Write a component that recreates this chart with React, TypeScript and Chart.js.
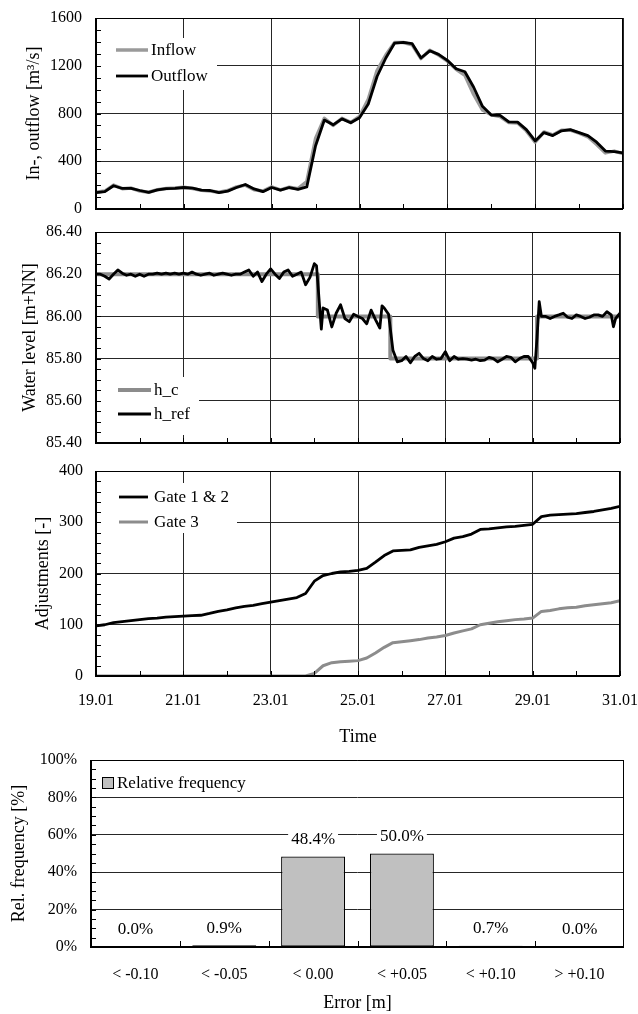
import React, { useEffect, useRef } from 'react';
import { Chart, registerables } from 'chart.js';

Chart.register(...registerables);

const SERIF = "'Liberation Serif', 'Times New Roman', Times, serif";
const GRID = '#262626';

// ---------- shared time axis (days after 19.01) ----------
const timeTickLabels = ['19.01', '21.01', '23.01', '25.01', '27.01', '29.01', '31.01'];

const gridDays = [
  0, 0.2, 0.4, 0.6, 0.8, 1.0, 1.2, 1.4, 1.6, 1.8,
  2.0, 2.2, 2.4, 2.6, 2.8, 3.0, 3.2, 3.4, 3.6, 3.8,
  4.0, 4.2, 4.4, 4.6, 4.8, 5.0, 5.2, 5.4, 5.6, 5.8,
  6.0, 6.2, 6.4, 6.6, 6.8, 7.0, 7.2, 7.4, 7.6, 7.8,
  8.0, 8.2, 8.4, 8.6, 8.8, 9.0, 9.2, 9.4, 9.6, 9.8,
  10.0, 10.2, 10.4, 10.6, 10.8, 11.0, 11.2, 11.4, 11.6, 11.8,
  12.0,
];

// ---------- panel 1: in-/outflow [m3/s] ----------
const inflow = [
  140, 150, 200, 170, 175, 150, 140, 162, 172, 175,
  182, 172, 156, 150, 140, 155, 185, 200, 162, 150,
  185, 160, 182, 170, 230, 590, 760, 700, 760, 725,
  775, 920, 1160, 1290, 1395, 1395, 1375, 1260, 1330, 1290,
  1240, 1170, 1120, 960, 830, 790, 775, 725, 720, 655,
  560, 645, 620, 660, 660, 635, 605, 540, 470, 485,
  465,
];
const outflow = [
  137, 145, 195, 172, 172, 155, 140, 160, 170, 172,
  180, 175, 158, 155, 138, 150, 180, 205, 168, 145,
  180, 158, 180, 165, 185, 530, 745, 705, 755, 722,
  765, 880, 1110, 1265, 1390, 1395, 1385, 1265, 1325, 1295,
  1245, 1175, 1150, 1020, 860, 787, 785, 730, 728, 665,
  570, 640, 615, 655, 665, 640, 615, 560, 485, 480,
  470,
];
const flowTickLabels = ['0', '400', '800', '1200', '1600'];

// ---------- panel 2: water level [m+NN] ----------
const levelDays = [
  0, 0.1, 0.2, 0.3, 0.4, 0.5, 0.6, 0.7, 0.8, 0.9,
  1.0, 1.1, 1.2, 1.3, 1.4, 1.5, 1.6, 1.7, 1.8, 1.9,
  2.0, 2.1, 2.2, 2.3, 2.4, 2.5, 2.6, 2.7, 2.8, 2.9,
  3.0, 3.1, 3.2, 3.3, 3.4, 3.5, 3.6, 3.7, 3.8, 3.9,
  4.0, 4.1, 4.2, 4.3, 4.4, 4.5, 4.6, 4.7, 4.8, 4.9,
  5.0, 5.05, 5.16, 5.2, 5.3, 5.4, 5.5, 5.6, 5.7, 5.8,
  5.9, 6.0, 6.1, 6.2, 6.3, 6.4, 6.5, 6.55, 6.6, 6.7,
  6.8, 6.9, 7.0, 7.1, 7.2, 7.3, 7.4, 7.5, 7.6, 7.7,
  7.8, 7.9, 8.0, 8.1, 8.2, 8.3, 8.4, 8.5, 8.6, 8.7,
  8.8, 8.9, 9.0, 9.1, 9.2, 9.3, 9.4, 9.5, 9.6, 9.7,
  9.8, 9.9, 10.0, 10.05, 10.1, 10.15, 10.2, 10.3, 10.4, 10.5,
  10.6, 10.7, 10.8, 10.9, 11.0, 11.1, 11.2, 11.3, 11.4, 11.5,
  11.6, 11.7, 11.8, 11.85, 11.9, 12.0,
];
const hRef = [
  86.2, 86.2, 86.19, 86.177, 86.2, 86.22, 86.205, 86.195, 86.2, 86.19,
  86.2, 86.19, 86.2, 86.2, 86.205, 86.2, 86.205, 86.2, 86.205, 86.2,
  86.205, 86.2, 86.21, 86.2, 86.195, 86.2, 86.205, 86.195, 86.2, 86.205,
  86.2, 86.195, 86.2, 86.2, 86.21, 86.22, 86.19, 86.21, 86.165, 86.2,
  86.225, 86.2, 86.18, 86.21, 86.22, 86.19, 86.2, 86.21, 86.15, 86.185,
  86.25, 86.24, 85.94, 86.04, 86.03, 85.95, 86.015, 86.055, 85.99, 85.975,
  86.01, 86.0, 85.99, 85.965, 86.03, 85.985, 85.945, 86.05, 86.04, 86.01,
  85.84, 85.785, 85.79, 85.81, 85.78, 85.81, 85.825, 85.8, 85.79, 85.81,
  85.797, 85.8, 85.833, 85.79, 85.81, 85.797, 85.8, 85.797, 85.793, 85.797,
  85.79, 85.793, 85.806, 85.8, 85.785, 85.797, 85.81, 85.806, 85.785, 85.8,
  85.81, 85.81, 85.78, 85.754, 85.9, 86.07, 86.0, 86.0, 85.99, 86.0,
  86.007, 86.015, 85.996, 85.99, 86.007, 86.0, 85.99, 85.996, 86.007, 86.007,
  86.0, 86.022, 86.007, 85.951, 85.99, 86.015,
];
const hcDays = [0, 5.08, 5.08, 6.74, 6.74, 10.1, 10.1, 12];
const hc = [86.2, 86.2, 86.0, 86.0, 85.8, 85.8, 86.0, 86.0];
const levelTickLabels = ['85.40', '85.60', '85.80', '86.00', '86.20', '86.40'];

// ---------- panel 3: adjustments [-] ----------
const gate12 = [
  97.6, 100, 104, 106, 108, 110, 112, 113, 115, 116,
  117, 118, 118.5, 122, 126, 129, 133, 136, 138, 141,
  144, 147, 150, 153, 161, 185, 196, 200, 203, 204,
  206, 210, 222, 235, 244, 245, 246, 251, 254, 257,
  262, 269, 272, 277, 286, 287, 289, 291, 292, 294,
  296, 311, 314, 315, 316, 317, 319, 321, 324, 327,
  331,
];
const gate3 = [
  0, 0, 0, 0, 0, 0, 0, 0, 0, 0,
  0, 0, 0, 0, 0, 0, 0, 0, 0, 0,
  0, 0, 0, 0, 0, 5, 20, 26, 28, 29,
  30, 35, 45, 56, 65, 67, 69, 71, 74, 76,
  79, 84, 88, 92, 100, 103, 106, 108, 110, 111,
  113, 126, 128, 131, 133, 134, 137, 139, 141, 143,
  147,
];
const adjTickLabels = ['0', '100', '200', '300', '400'];

// ---------- panel 4: error histogram ----------
const errorClasses = ['< -0.10', '< -0.05', '< 0.00', '< +0.05', '< +0.10', '> +0.10'];
const relFrequency = [0.0, 0.9, 48.4, 50.0, 0.7, 0.0];
const freqTickLabels = ['0%', '20%', '40%', '60%', '80%', '100%'];

// ---------- decoration plugin (frame, minor ticks, legend box, bar labels) ----------
const decorPlugin = {
  id: 'decor',
  beforeDatasetsDraw(chart: any, _args: any, o: any) {
    const lg = o && o.legend;
    if (!lg) return;
    const { ctx, chartArea: a } = chart;
    ctx.save();
    ctx.fillStyle = '#fff';
    ctx.fillRect(a.left + 1, a.top + lg.top, lg.width, lg.height);
    ctx.font = `${lg.fontSize}px ${SERIF}`;
    ctx.textBaseline = 'middle';
    ctx.textAlign = 'left';
    chart.data.datasets.forEach((ds: any, i: number) => {
      const y = a.top + lg.rows[i];
      if (lg.square) {
        ctx.fillStyle = ds.backgroundColor;
        ctx.fillRect(a.left + lg.lineX1, y - 6, 12, 12);
        ctx.strokeStyle = '#000';
        ctx.lineWidth = 1;
        ctx.strokeRect(a.left + lg.lineX1 + 0.5, y - 5.5, 11, 11);
      } else {
        ctx.strokeStyle = ds.borderColor;
        ctx.lineWidth = ds.borderWidth;
        ctx.beginPath();
        ctx.moveTo(a.left + lg.lineX1, y);
        ctx.lineTo(a.left + lg.lineX2, y);
        ctx.stroke();
      }
      ctx.fillStyle = '#000';
      ctx.fillText(ds.label, a.left + lg.textX, y + 1);
    });
    ctx.restore();
  },
  afterDatasetsDraw(chart: any, _args: any, o: any) {
    const { ctx, chartArea: a, scales } = chart;
    ctx.save();
    ctx.strokeStyle = '#000';
    ctx.lineWidth = 1;
    ctx.beginPath();
    if (o.yMinor) {
      const ys = scales.y;
      const n = Math.round((ys.max - ys.min) / o.yMinor);
      for (let i = 0; i <= n; i++) {
        const p = Math.round(ys.getPixelForValue(ys.min + i * o.yMinor)) + 0.5;
        ctx.moveTo(a.left, p);
        ctx.lineTo(a.left + 5, p);
      }
    }
    if (o.xMinor) {
      const xs = scales.x;
      const n = Math.round((xs.max - xs.min) / o.xMinor);
      for (let i = 0; i <= n; i++) {
        const p = Math.round(xs.getPixelForValue(xs.min + i * o.xMinor)) + 0.5;
        ctx.moveTo(p, a.bottom);
        ctx.lineTo(p, a.bottom - 5);
      }
    }
    if (o.catTicks) {
      const xs = scales.x;
      const n = chart.data.labels.length;
      for (let i = 1; i < n; i++) {
        const p = Math.round((xs.getPixelForValue(i - 1) + xs.getPixelForValue(i)) / 2) + 0.5;
        ctx.moveTo(p, a.bottom);
        ctx.lineTo(p, a.bottom - 6);
      }
    }
    ctx.stroke();
    // thin top / right frame
    ctx.beginPath();
    ctx.moveTo(a.left, a.top + 0.5);
    ctx.lineTo(a.right, a.top + 0.5);
    ctx.moveTo(a.right - 0.5, a.top);
    ctx.lineTo(a.right - 0.5, a.bottom);
    ctx.stroke();
    // thick left / bottom axes
    ctx.lineWidth = 2;
    ctx.beginPath();
    ctx.moveTo(a.left, a.top);
    ctx.lineTo(a.left, a.bottom + 1);
    ctx.moveTo(a.left - 1, a.bottom);
    ctx.lineTo(a.right, a.bottom);
    ctx.stroke();

    if (o.barLabels) {
      const meta = chart.getDatasetMeta(0);
      const vals = chart.data.datasets[0].data;
      ctx.font = `17px ${SERIF}`;
      ctx.textAlign = 'center';
      ctx.textBaseline = 'middle';
      meta.data.forEach((bar: any, i: number) => {
        const txt = `${Number(vals[i]).toFixed(1)}%`;
        const y = bar.y - 18;
        const w = ctx.measureText(txt).width;
        ctx.fillStyle = '#fff';
        ctx.fillRect(bar.x - w / 2 - 3, y - 9, w + 6, 18);
        ctx.fillStyle = '#000';
        ctx.fillText(txt, bar.x, y + 1);
      });
    }
    ctx.restore();
  },
};

const tickFont = { family: SERIF, size: 16 };
const titleFont = { family: SERIF, size: 18, lineHeight: 1.2 };

function timeAxis(height: number, showLabels: boolean) {
  return {
    type: 'linear',
    min: 0,
    max: 12,
    ticks: {
      stepSize: 2,
      display: showLabels,
      padding: 15,
      font: tickFont,
      color: '#000',
      maxRotation: 0,
      autoSkip: false,
      callback: (_v: any, i: number) => timeTickLabels[i],
    },
    grid: { color: GRID, lineWidth: 1, drawTicks: false },
    border: { display: false },
    title: {
      display: showLabels,
      text: 'Time',
      font: titleFont,
      color: '#000',
      padding: { top: 0, bottom: 2 },
    },
    afterFit: (s: any) => {
      s.height = height;
      s.paddingLeft = 0;
      s.paddingRight = 0;
    },
  };
}

function valueAxis(min: number, max: number, step: number, labels: string[], title: string, titlePad: number, labelPad: number, width: number) {
  return {
    type: 'linear',
    min,
    max,
    ticks: {
      stepSize: step,
      padding: labelPad,
      font: tickFont,
      color: '#000',
      autoSkip: false,
      callback: (_v: any, i: number) => labels[i],
    },
    grid: { color: GRID, lineWidth: 1, drawTicks: false },
    border: { display: false },
    title: {
      display: true,
      text: title,
      font: titleFont,
      color: '#000',
      padding: { top: titlePad, bottom: 0 },
    },
    afterFit: (s: any) => {
      s.width = width;
      s.paddingTop = 0;
      s.paddingBottom = 0;
    },
  };
}

function baseOptions(padTop: number, padRight: number, decor: any, scales: any) {
  return {
    animation: false,
    responsive: false,
    maintainAspectRatio: false,
    devicePixelRatio: 1,
    events: [],
    layout: { padding: { top: padTop, right: padRight, bottom: 0, left: 0 } },
    plugins: { legend: { display: false }, tooltip: { enabled: false }, decor },
    scales,
  };
}

function pts(xs: number[], ys: number[]) {
  return xs.map((x, i) => ({ x, y: ys[i] }));
}

const lineDefaults = { pointRadius: 0, tension: 0, fill: false, borderJoinStyle: 'round', borderCapStyle: 'round' };

function flowConfig(): any {
  return {
    type: 'line',
    data: {
      datasets: [
        { ...lineDefaults, label: 'Inflow', data: pts(gridDays, inflow), borderColor: '#9a9a9a', borderWidth: 3.5, order: 2 },
        { ...lineDefaults, label: 'Outflow', data: pts(gridDays, outflow), borderColor: '#000', borderWidth: 2.8, order: 1 },
      ],
    },
    options: baseOptions(18, 15, {
      yMinor: 100, xMinor: 1,
      legend: { top: 20, width: 120, height: 52, rows: [32, 58], lineX1: 20, lineX2: 52, textX: 55, fontSize: 17 },
    }, {
      x: timeAxis(17, false),
      y: valueAxis(0, 1600, 400, flowTickLabels, 'In-, outflow [m³/s]', 23, 14, 96),
    }),
    plugins: [decorPlugin],
  };
}

function levelConfig(): any {
  return {
    type: 'line',
    data: {
      datasets: [
        { ...lineDefaults, label: 'h_c', data: pts(hcDays, hc), borderColor: '#8c8c8c', borderWidth: 4, order: 2 },
        { ...lineDefaults, label: 'h_ref', data: pts(levelDays, hRef), borderColor: '#000', borderWidth: 2.8, order: 1 },
      ],
    },
    options: baseOptions(16, 18, {
      yMinor: 0.05, xMinor: 1,
      legend: { top: 145, width: 102, height: 58, rows: [158, 182], lineX1: 22, lineX2: 55, textX: 58, fontSize: 17 },
    }, {
      x: timeAxis(12, false),
      y: valueAxis(85.4, 86.4, 0.2, levelTickLabels, 'Water level [m+NN]', 19, 14, 96),
    }),
    plugins: [decorPlugin],
  };
}

function adjConfig(): any {
  return {
    type: 'line',
    data: {
      datasets: [
        { ...lineDefaults, label: 'Gate 1 & 2', data: pts(gridDays, gate12), borderColor: '#000', borderWidth: 2.8, order: 1 },
        { ...lineDefaults, label: 'Gate 3', data: pts(gridDays, gate3), borderColor: '#8c8c8c', borderWidth: 3, order: 2 },
      ],
    },
    options: baseOptions(26, 18, {
      yMinor: 20, xMinor: 1,
      legend: { top: 12, width: 140, height: 50, rows: [26, 51], lineX1: 23, lineX2: 52, textX: 58, fontSize: 17 },
    }, {
      x: timeAxis(74, true),
      y: valueAxis(0, 400, 100, adjTickLabels, 'Adjustments [-]', 32, 13, 96),
    }),
    plugins: [decorPlugin],
  };
}

function freqConfig(): any {
  return {
    type: 'bar',
    data: {
      labels: errorClasses,
      datasets: [
        {
          label: 'Relative frequency',
          data: relFrequency,
          backgroundColor: '#c0c0c0',
          borderColor: '#000',
          borderWidth: 1.2,
          borderSkipped: false,
          barPercentage: 0.72,
          categoryPercentage: 1,
        },
      ],
    },
    options: baseOptions(10, 14, {
      yMinor: 5, catTicks: true, barLabels: true,
      legend: { top: 13, width: 0, height: 0, rows: [23], lineX1: 11, lineX2: 23, textX: 26, fontSize: 17, square: true },
    }, {
      x: {
        type: 'category',
        offset: true,
        ticks: { padding: 18, font: tickFont, color: '#000', maxRotation: 0, autoSkip: false },
        grid: { display: false, drawTicks: false },
        border: { display: false },
        title: { display: true, text: 'Error [m]', font: titleFont, color: '#000', padding: { top: 0, bottom: 0 } },
        afterFit: (s: any) => {
          s.height = 67;
          s.paddingLeft = 0;
          s.paddingRight = 0;
        },
      },
      y: valueAxis(0, 100, 20, freqTickLabels, 'Rel. frequency [%]', 8, 14, 91),
    }),
    plugins: [decorPlugin],
  };
}

export default function App() {
  const r1 = useRef<HTMLCanvasElement>(null);
  const r2 = useRef<HTMLCanvasElement>(null);
  const r3 = useRef<HTMLCanvasElement>(null);
  const r4 = useRef<HTMLCanvasElement>(null);

  useEffect(() => {
    const charts = [
      new Chart(r1.current as HTMLCanvasElement, flowConfig()),
      new Chart(r2.current as HTMLCanvasElement, levelConfig()),
      new Chart(r3.current as HTMLCanvasElement, adjConfig()),
      new Chart(r4.current as HTMLCanvasElement, freqConfig()),
    ];
    return () => charts.forEach((c) => c.destroy());
  }, []);

  const cs = (top: number, h: number): React.CSSProperties => ({ position: 'absolute', left: 0, top, width: 638, height: h, display: 'block' });

  return (
    <div style={{ position: 'absolute', left: 0, top: 0, width: 638, height: 1014, background: '#fff', overflow: 'hidden' }}>
      <canvas ref={r1} width={638} height={226} style={cs(0, 226)} />
      <canvas ref={r2} width={638} height={239} style={cs(216, 239)} />
      <canvas ref={r3} width={638} height={305} style={cs(445, 305)} />
      <canvas ref={r4} width={638} height={264} style={cs(750, 264)} />
    </div>
  );
}
